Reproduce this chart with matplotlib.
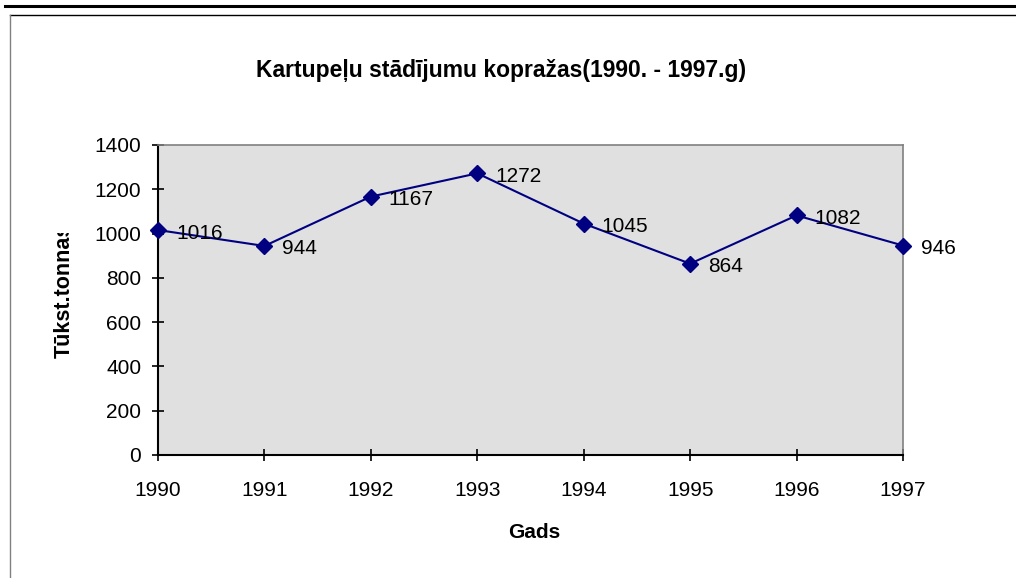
import matplotlib
matplotlib.use("Agg")
import matplotlib.pyplot as plt
from matplotlib.lines import Line2D
from matplotlib.patches import Rectangle

years = [1990, 1991, 1992, 1993, 1994, 1995, 1996, 1997]
values = [1016, 944, 1167, 1272, 1045, 864, 1082, 946]
yticks = [0, 200, 400, 600, 800, 1000, 1200, 1400]
title = "Kartupeļu stādījumu kopražas(1990. - 1997.g)"
xlabel = "Gads"
ylabel = "Tūkst.tonnas"

plt.rcParams['font.family'] = ['Liberation Sans', 'DejaVu Sans']

W, H = 1016, 578
fig = plt.figure(figsize=(W / 100, H / 100), dpi=100)

def fx(px):
    return px / W

def fy(py):
    return 1 - py / H

# outer decoration lines
fig.add_artist(Line2D([fx(5), 1], [fy(6), fy(6)], color='black', lw=2.2))
fig.add_artist(Line2D([fx(10), 1], [fy(15), fy(15)], color='black', lw=1.0))
fig.add_artist(Line2D([fx(10), fx(10)], [fy(15), 0], color='#808080', lw=1.0))

ax = fig.add_axes([fx(158), fy(455), fx(903) - fx(158), fy(145) - fy(455)])
ax.set_facecolor('#E0E0E0')
ax.plot(years, values, color='#000080', lw=1.5, marker='D', markersize=8.5,
        clip_on=False, zorder=3)
for x, v in zip(years, values):
    ax.annotate(str(v), (x, v), xytext=(18, -3), textcoords='offset pixels',
                ha='left', va='center', fontsize=15, color='black',
                annotation_clip=False)

ax.set_xlim(years[0], years[-1])
ax.set_ylim(0, 1400)
ax.set_yticks(yticks)
ax.set_xticks(years)
ax.set_xticklabels([str(y) for y in years])
ax.tick_params(direction='inout', length=8, width=1.2, labelsize=15,
               colors='black')
ax.tick_params(axis='x', pad=15)
ax.tick_params(axis='y', pad=8)
for s in ['top', 'right']:
    ax.spines[s].set_color('#808080')
    ax.spines[s].set_linewidth(1.2)
for s in ['left', 'bottom']:
    ax.spines[s].set_color('black')
    ax.spines[s].set_linewidth(1.5)

fig.text(fx(501), fy(70), title, ha='center', va='center', fontsize=16.5,
         fontweight='bold')
fig.text(fx(534), fy(532), xlabel, ha='center', va='center', fontsize=15,
         fontweight='bold')
yl = fig.text(fx(64), fy(358), ylabel, ha='left', va='center', rotation=90,
              rotation_mode='anchor', fontsize=15.5, fontweight='bold')
# clip y-label like the original
clip_rect = Rectangle((0, fy(560)), fx(150), fy(233) - fy(560),
                      transform=fig.transFigure, visible=False)
yl.set_clip_path(clip_rect)

fig.savefig('out.png', dpi=100)
